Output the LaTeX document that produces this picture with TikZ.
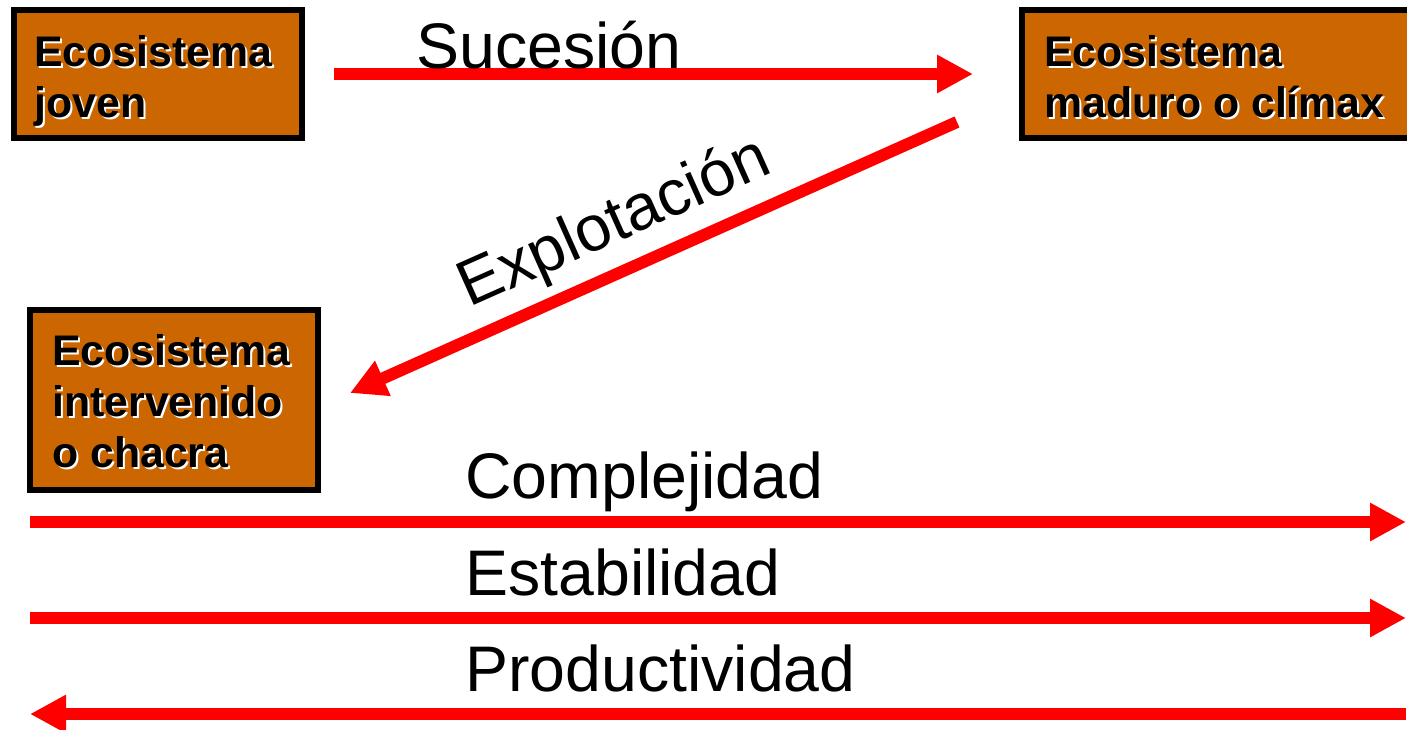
\documentclass[tikz,border=0pt]{standalone}
\usepackage{fontspec}
\setmainfont{Liberation Sans}
\usetikzlibrary{arrows.meta}
\definecolor{boxorange}{RGB}{204,102,0}
% white shadow behind box text
\newcommand{\shtxt}[1]{\makebox[0pt][l]{\kern1pt\raisebox{-1pt}{\color{white}#1}}#1}

\begin{document}
\begin{tikzpicture}[x=0.5pt, y=-0.5pt,
    ecobox/.style={draw=black, fill=boxorange, line width=3pt, inner sep=0pt},
    ecotext/.style={font=\fontsize{21.4pt}{25.5pt}\selectfont\bfseries, align=left, inner sep=0pt, anchor=base west},
    biglabel/.style={font=\fontsize{32.2pt}{38pt}\selectfont, inner sep=0pt, anchor=base west},
    redarrow/.style={draw=red, line width=6pt, -{Triangle[length=18pt, width=18pt]}}]
    \useasboundingbox (0,0) rectangle (1407,729);
    \clip (0,0) rectangle (1407,729);

    % Ecosystem boxes (text anchored at the last line)
    \node[ecobox, minimum width=144pt, minimum height=64pt] (joven) at (158,74) {};
    \node[ecobox, minimum width=199pt, minimum height=64pt] (maduro) at (1221,74) {};
    \node[ecobox, minimum width=144pt, minimum height=90pt] (chacra) at (174,400) {};
    \node[ecotext] (jovenlbl) at (34,117) {\shtxt{Ecosistema}\\\shtxt{joven}};
    \node[ecotext] (madurolbl) at (1044,117) {\shtxt{Ecosistema}\\\shtxt{maduro o clímax}};
    \node[ecotext] (chacralbl) at (52,467) {\shtxt{Ecosistema}\\\shtxt{intervenido}\\\shtxt{o chacra}};

    % Arrow ends
    \coordinate (sucA) at (334,74);
    \coordinate (sucB) at (973,74);
    \coordinate (expA) at (957,122);
    \coordinate (expB) at (350,393);
    \coordinate (comA) at (30,522);
    \coordinate (comB) at (1406,522);
    \coordinate (estA) at (30,618);
    \coordinate (estB) at (1406,618);
    \coordinate (proA) at (1406,714);
    \coordinate (proB) at (30,714);

    % Arrows
    \draw[redarrow] (sucA) -- (sucB);
    \draw[redarrow] (expA) -- (expB);
    \draw[redarrow] (comA) -- (comB);
    \draw[redarrow] (estA) -- (estB);
    \draw[redarrow] (proA) -- (proB);

    % Labels
    \node[biglabel] (sucesion) at (416,68) {Sucesión};
    \node[biglabel, anchor=base, rotate=24] (explotacion) at (622,240) {Explotación};
    \node[biglabel] (complejidad) at (465,498) {Complejidad};
    \node[biglabel] (estabilidad) at (465,595) {Estabilidad};
    \node[biglabel] (productividad) at (465,691) {Productividad};
\end{tikzpicture}
\end{document}
